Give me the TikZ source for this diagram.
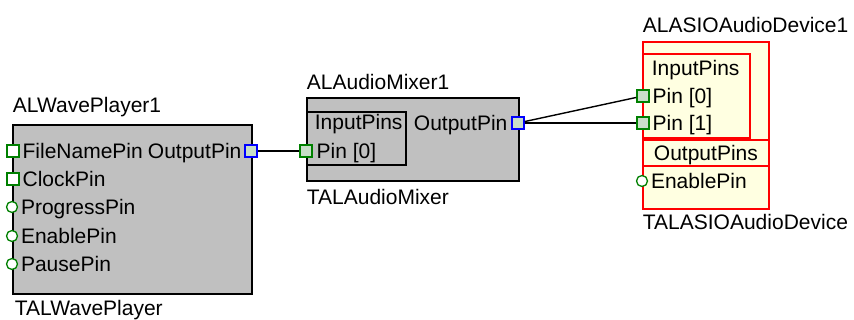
\documentclass[tikz,border=0pt]{standalone}
\usepackage{fontspec}
\setmainfont{Liberation Sans}
\usetikzlibrary{positioning}
\definecolor{boxgray}{RGB}{192,192,192}
\definecolor{pingreen}{RGB}{0,128,0}
\definecolor{pinfill}{RGB}{200,222,200}
\definecolor{asiofill}{RGB}{255,255,225}
\definecolor{asiored}{RGB}{255,0,0}

\begin{document}
\begin{tikzpicture}[x=1pt,y=-1pt,line width=1.8pt,node distance=2pt,
    txt/.style={font=\fontsize{21}{24}\selectfont,inner sep=0pt,text height=15pt,text depth=0pt,anchor=west},
    comp/.style={draw,fill=boxgray,anchor=north west,inner sep=0pt},
    frame/.style={draw,anchor=north west,inner sep=0pt},
    sqpin/.style={draw=pingreen,fill=white,line width=1.5pt,minimum size=12pt,inner sep=0pt},
    rdpin/.style={circle,draw=pingreen,fill=white,line width=1.3pt,minimum size=11pt,inner sep=0pt},
    outpin/.style={draw=blue,fill=pinfill,line width=1.5pt,minimum size=12pt,inner sep=0pt},
    wire/.style={line width=1.4pt}]
    \useasboundingbox (0,0) rectangle (854,320);

        \node[comp,minimum width=239pt,minimum height=169pt] (player) at (12,124) {};
        \node[txt] (playertitle) at (12,105) {ALWavePlayer1};
        \node[txt] (playerclass) at (14,308) {TALWavePlayer};
        \node[sqpin] (filenamepin) at (13,151) {};
        \node[txt,right=of filenamepin] (filenametext) {FileNamePin};
        \node[sqpin] (clockpin) at (13,179) {};
        \node[txt,right=of clockpin] (clocktext) {ClockPin};
        \node[rdpin] (progresspin) at (12,207) {};
        \node[txt,right=of progresspin] (progresstext) {ProgressPin};
        \node[rdpin] (enablepin) at (12,236) {};
        \node[txt,right=of enablepin] (enabletext) {EnablePin};
        \node[rdpin] (pausepin) at (12,264) {};
        \node[txt,right=of pausepin] (pausetext) {PausePin};
        \node[outpin] (playerout) at (251,151) {};
        \node[txt,left=of playerout] (playerouttext) {OutputPin};

        \node[comp,minimum width=212pt,minimum height=83pt] (mixer) at (306,97) {};
        \node[frame,minimum width=99pt,minimum height=53pt] (mixerin) at (306,111) {};
        \node[txt] (mixertitle) at (306,82) {ALAudioMixer1};
        \node[txt] (mixerclass) at (306,197) {TALAudioMixer};
        \node[txt] (mixerintext) at (314,122) {InputPins};
        \node[sqpin,fill=pinfill] (mixerpin0) at (306,151) {};
        \node[txt,right=3pt of mixerpin0] (mixerpin0text) {Pin [0]};
        \node[outpin] (mixerout) at (518,123) {};
        \node[txt,left=3pt of mixerout] (mixerouttext) {OutputPin};

        \node[comp,fill=asiofill,draw=asiored,minimum width=126pt,minimum height=167pt] (asio) at (642,41) {};
        \node[frame,draw=asiored,minimum width=107pt,minimum height=84pt] (asioin) at (642,53) {};
        \node[txt,frame,draw=asiored,minimum width=126pt,minimum height=26pt] (asioout) at (642,139) {OutputPins};
        \node[txt] (asiotitle) at (642,25) {ALASIOAudioDevice1};
        \node[txt] (asioclass) at (642,222) {TALASIOAudioDevice};
        \node[txt] (asiointext) at (651,68) {InputPins};
        \node[sqpin,fill=pinfill] (asiopin0) at (643,96) {};
        \node[txt,right=of asiopin0] (asiopin0text) {Pin [0]};
        \node[sqpin,fill=pinfill] (asiopin1) at (643,123) {};
        \node[txt,right=of asiopin1] (asiopin1text) {Pin [1]};
        \node[rdpin] (asioenable) at (642,181) {};
        \node[txt,right=of asioenable] (asioenabletext) {EnablePin};

        \draw[wire] (playerout) -- (mixerpin0);
        \draw[wire] (mixerout) -- (asiopin0);
        \draw[wire] (mixerout) -- (asiopin1);
    \end{tikzpicture}
\end{document}
